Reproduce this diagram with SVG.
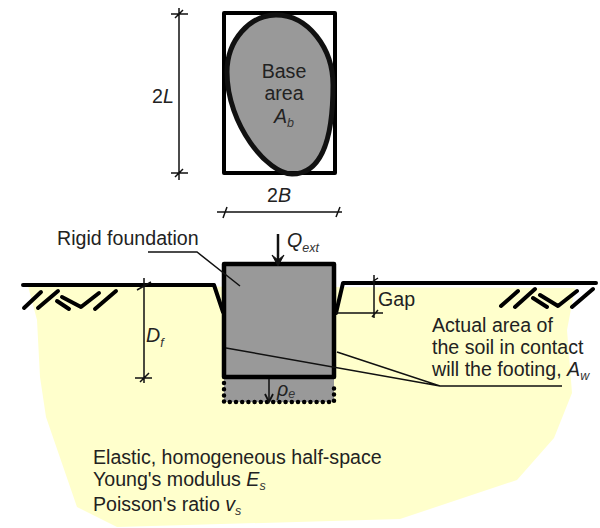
<svg xmlns="http://www.w3.org/2000/svg" width="600" height="528" viewBox="0 0 600 528">
<style>
text{font-family:"Liberation Sans",Arial,sans-serif;font-size:19.6px;fill:#222}
.i{font-style:italic}
.s{font-style:italic;font-size:12.5px;fill:#333}
.thick{fill:none;stroke:#000;stroke-width:4;stroke-linecap:round;stroke-linejoin:round}
.thin{fill:none;stroke:#111;stroke-width:1.5}
</style>
<defs>
<marker id="head" markerUnits="userSpaceOnUse" markerWidth="12" markerHeight="12" refX="10" refY="5" orient="auto"><path d="M2,1L10,5L2,9" fill="none" stroke="#111" stroke-width="1.8"/></marker>
</defs>
<rect width="600" height="528" fill="#fff"/>
<g id="soil"><path d="M28,286L37,320L40,377L46,417L77,507L117,527L400,519L517,480L554,438L572,393L567,330L575,288Z" fill="#ffffcc"/>
<path d="M224,379H334V402H224Z" fill="#999"/></g>
<g id="base-area">
<path d="M276,15C308,15 333,48 333,85C333,128 326,174 292,174C268,174 227,125 227,72C227,40 250,15 276,15Z" fill="#999"/>
<rect x="224" y="13" width="111" height="160" fill="none" stroke="#000" stroke-width="4" stroke-linejoin="round"/>
<path d="M276,15C308,15 333,48 333,85C333,128 326,174 292,174C268,174 227,125 227,72C227,40 250,15 276,15Z" fill="none" stroke="#111" stroke-width="5"/>
<text x="284" y="78" text-anchor="middle">Base</text>
<text x="284" y="100" text-anchor="middle">area</text>
<text x="274" y="123" class="i">A<tspan class="s" dy="4">b</tspan></text>
</g>
<g id="foundation">
<rect x="224" y="264" width="110" height="113" fill="#999" stroke="#000" stroke-width="4.5" stroke-linejoin="round"/>
<path d="M224,383V402H334V383" fill="none" stroke="#000" stroke-width="4.5" stroke-dasharray="0 6.2" stroke-linecap="round"/>
</g>
<g id="ground" class="thick">
<path d="M23,285H214L223,312"/><path d="M596,283H343L336,313"/>
<path d="M24,308L41,292M38,308L58,291M57,301L69,309M62,297L81,307L99,293M95,309L116,291"/>
<path d="M501,306L518,291M515,307L535,289M533,298L547,307M540,295L558,306L577,291M572,307L593,289"/>
</g>
<g id="connectors">
<path class="thin" d="M179,8V180M171,14H188M175,18L183,10M171,173H188M175,177L183,169"/>
<path class="thin" d="M217,212H342M223,218L227,207M336,217L340,207"/>
<path class="thin" d="M144,278V383M137,290L151,282M135,378H152M140,382L149,373"/>
<path class="thin" d="M374,275V318M372,282L378,278M336,313H383M372,317L378,310"/>
<path class="thin" d="M148,252H197L240,286"/>
<path class="thin" d="M562,386H440L337,352M440,386L226,348"/>
<path d="M278,234V262" fill="none" stroke="#111" stroke-width="2.5"/><path d="M272,255L278,266L284,255L278,260Z" fill="#111" stroke="#111"/>
<path class="thin" d="M269,379V402" marker-end="url(#head)"/>
</g>
<g id="labels">
<text x="152" y="103">2<tspan class="i">L</tspan></text>
<text x="267" y="202">2<tspan class="i">B</tspan></text>
<text x="57" y="245">Rigid foundation</text>
<text x="287" y="247" class="i">Q<tspan class="s" dy="5">ext</tspan></text>
<text x="146" y="342" class="i">D<tspan class="s" dy="5">f</tspan></text>
<text x="378" y="306">Gap</text>
<text x="432" y="332">Actual area of</text>
<text x="432" y="354">the soil in contact</text>
<text x="432" y="376">will the footing, <tspan class="i">A</tspan><tspan class="s" dy="4">w</tspan></text>
<text x="277" y="396" class="i">ρ<tspan class="s" dy="2">e</tspan></text>
<text x="93" y="464">Elastic, homogeneous half-space</text>
<text x="93" y="486">Young's modulus <tspan class="i">E</tspan><tspan class="s" dy="4">s</tspan></text>
<text x="93" y="511">Poisson's ratio <tspan class="i">v</tspan><tspan class="s" dy="4">s</tspan></text>
</g>
</svg>
